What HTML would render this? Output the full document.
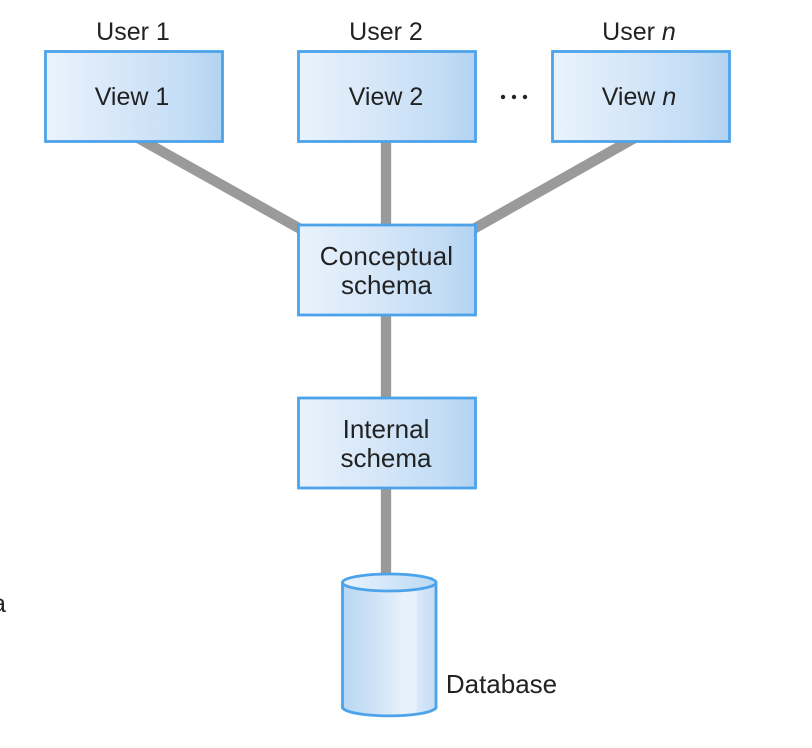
<!DOCTYPE html>
<html>
<head>
<meta charset="utf-8">
<style>
html,body{margin:0;padding:0;background:#fff;width:812px;height:748px;overflow:hidden}
svg{display:block}
text{font-family:"Liberation Sans",sans-serif;font-size:25px;fill:#222;text-anchor:middle}
.l{font-size:26px}
.box{stroke:#4da3ea;stroke-width:2.8;fill:url(#g)}
.c{stroke:#9a9a9a;stroke-width:10.300;fill:none}
</style>
</head>
<body>
<svg width="812" height="748" viewBox="0 0 812 748" xmlns="http://www.w3.org/2000/svg">
<defs>
<linearGradient id="g" x1="0" x2="1" y1="0" y2="0">
<stop offset="0" stop-color="#e9f3fc"/><stop offset="0.5" stop-color="#d3e5f8"/><stop offset="0.8" stop-color="#c3ddf5"/><stop offset="1" stop-color="#b2d3f1"/>
</linearGradient>
<linearGradient id="cy" x1="0" x2="1" y1="0" y2="0">
<stop offset="0" stop-color="#b8d7f3"/><stop offset="0.35" stop-color="#cfe3f7"/><stop offset="0.65" stop-color="#e6f1fb"/><stop offset="0.78" stop-color="#e6f1fb"/><stop offset="0.82" stop-color="#d5e6f8"/><stop offset="1" stop-color="#c6ddf5"/>
</linearGradient>
<linearGradient id="top" x1="0" x2="1" y1="0" y2="0">
<stop offset="0" stop-color="#eaf3fc"/><stop offset="1" stop-color="#bcd9f4"/>
</linearGradient>
</defs>

<line class="c" x1="125.600" y1="131" x2="316" y2="237.700"/>
<line class="c" x1="386" y1="135" x2="386" y2="230"/>
<line class="c" x1="647" y1="131" x2="458" y2="237.700"/>
<line class="c" x1="386" y1="310" x2="386" y2="402"/>
<line class="c" x1="386" y1="483" x2="386" y2="580"/>

<rect class="box" x="45.500" y="51.500" width="177" height="90"/>
<rect class="box" x="298.500" y="51.500" width="177" height="90"/>
<rect class="box" x="552.500" y="51.500" width="177" height="90"/>
<rect class="box" x="298.500" y="225" width="177" height="90"/>
<rect class="box" x="298.500" y="398" width="177" height="90"/>

<path d="M342.500 583 V708 C352 718.500 426 718.500 436 708 V583 Z" fill="url(#cy)" stroke="#4da3ea" stroke-width="2.8"/>
<ellipse cx="389.250" cy="582.500" rx="46.750" ry="8.500" fill="url(#top)" stroke="#4da3ea" stroke-width="2.8"/>

<text x="133" y="40">User 1</text>
<text x="386" y="40">User 2</text>
<text x="639" y="40">User <tspan font-style="italic">n</tspan></text>
<text x="132" y="105">View 1</text>
<text x="386" y="105">View 2</text>
<text x="639" y="105">View <tspan font-style="italic">n</tspan></text>
<circle cx="503" cy="97" r="2.200" fill="#222"/><circle cx="514" cy="97" r="2.200" fill="#222"/><circle cx="525" cy="97" r="2.200" fill="#222"/>
<text class="l" x="386.500" y="265" letter-spacing="0.2">Conceptual</text>
<text class="l" x="386.500" y="294">schema</text>
<text class="l" x="386" y="438">Internal</text>
<text class="l" x="386" y="467">schema</text>
<text class="l" x="501.500" y="693">Database</text>
<text x="-1" y="612">a</text>
</svg>
</body>
</html>
